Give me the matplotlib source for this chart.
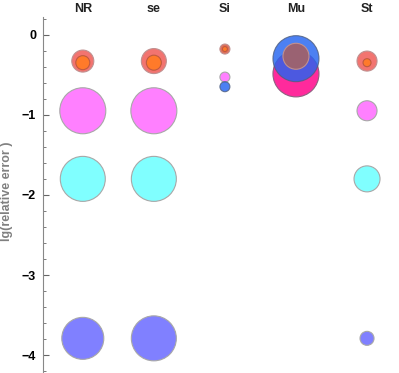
import numpy as np
import matplotlib.pyplot as plt

plt.rcParams['font.family'] = ['Liberation Sans', 'DejaVu Sans']

# categories along the top
cats = ['NR', 'se', 'Si', 'Mu', 'St']
nan = np.nan

# lg(relative error) and bubble radius (px) for each series
red_y = [-0.33, -0.33, -0.18, -0.27, -0.33]
red_r = [11, 12.5, 5, 13, 10]
orange_y = [-0.35, -0.35, -0.18, nan, -0.35]
orange_r = [7, 7.5, 2.5, 0, 4]
magenta_y = [-0.95, -0.95, -0.53, nan, -0.95]
magenta_r = [23, 23, 5, 0, 10]
pink_y = [nan, nan, nan, -0.49, nan]
pink_r = [0, 0, 0, 23, 0]
cyan_y = [-1.8, -1.8, nan, nan, -1.8]
cyan_r = [22.5, 22.5, 0, 0, 13]
lav_y = [-3.79, -3.79, nan, nan, -3.79]
lav_r = [21, 22.5, 0, 0, 7]
blue_y = [nan, nan, -0.65, -0.3, nan]
blue_r = [0, 0, 5, 23, 0]

yticks = [0, -1, -2, -3, -4]

fig = plt.figure(figsize=(3.99, 3.73), dpi=100)
ax = fig.add_axes([43 / 399, 1 / 373, 356 / 399, 355 / 373])
x = np.arange(1, len(cats) + 1)


def bubbles(yv, rv, color, edge='#a8a8a8', alpha=1.0):
    s = (1.44 * np.array(rv, dtype=float)) ** 2
    ax.scatter(x, yv, s=s, c=color, alpha=alpha, edgecolors=edge,
               linewidths=0.8, zorder=3)


bubbles(magenta_y, magenta_r, '#ff80ff')
bubbles(pink_y, pink_r, '#ff2a9c', edge='#906080')
bubbles(cyan_y, cyan_r, '#80ffff')
bubbles(lav_y, lav_r, '#8080ff')
bubbles(blue_y, blue_r, '#2464f0', edge='#506080', alpha=0.82)
red_cols = ['#f27470', '#f27470', '#e0705a', '#9a6272', '#f27470']
bubbles(red_y, red_r, red_cols, edge='#c09090')
bubbles(orange_y, orange_r, '#ff7a2a', edge='#c05a40')

ax.set_xlim(0.44, 5.45)
ax.set_ylim(-4.21, 0.22)

for xi, c in zip(x, cats):
    fig.text(ax.transData.transform((xi, 0))[0] / 399, 1 - 9 / 373, c,
             ha='center', va='center', fontsize=9, fontweight='bold',
             color='#222222')

for s in ['top', 'right', 'bottom']:
    ax.spines[s].set_visible(False)
ax.spines['left'].set_color('#888888')
ax.set_xticks([])
ax.set_yticks(yticks)
ax.set_yticklabels(['0', '\u22121', '\u22122', '\u22123', '\u22124'],
                   fontweight='bold', fontsize=9)
ax.set_yticks(np.arange(-4.2, 0.21, 0.2), minor=True)
ax.tick_params(axis='y', which='major', direction='in', length=4,
               color='#666666', pad=5)
ax.tick_params(axis='y', which='minor', direction='in', length=2.5,
               color='#666666')
ax.set_ylabel('lg(relative error )', color='#808080', fontsize=9,
              fontweight='bold')
ax.yaxis.set_label_coords(-0.085, 0.51)

fig.savefig('out.png', dpi=100)
